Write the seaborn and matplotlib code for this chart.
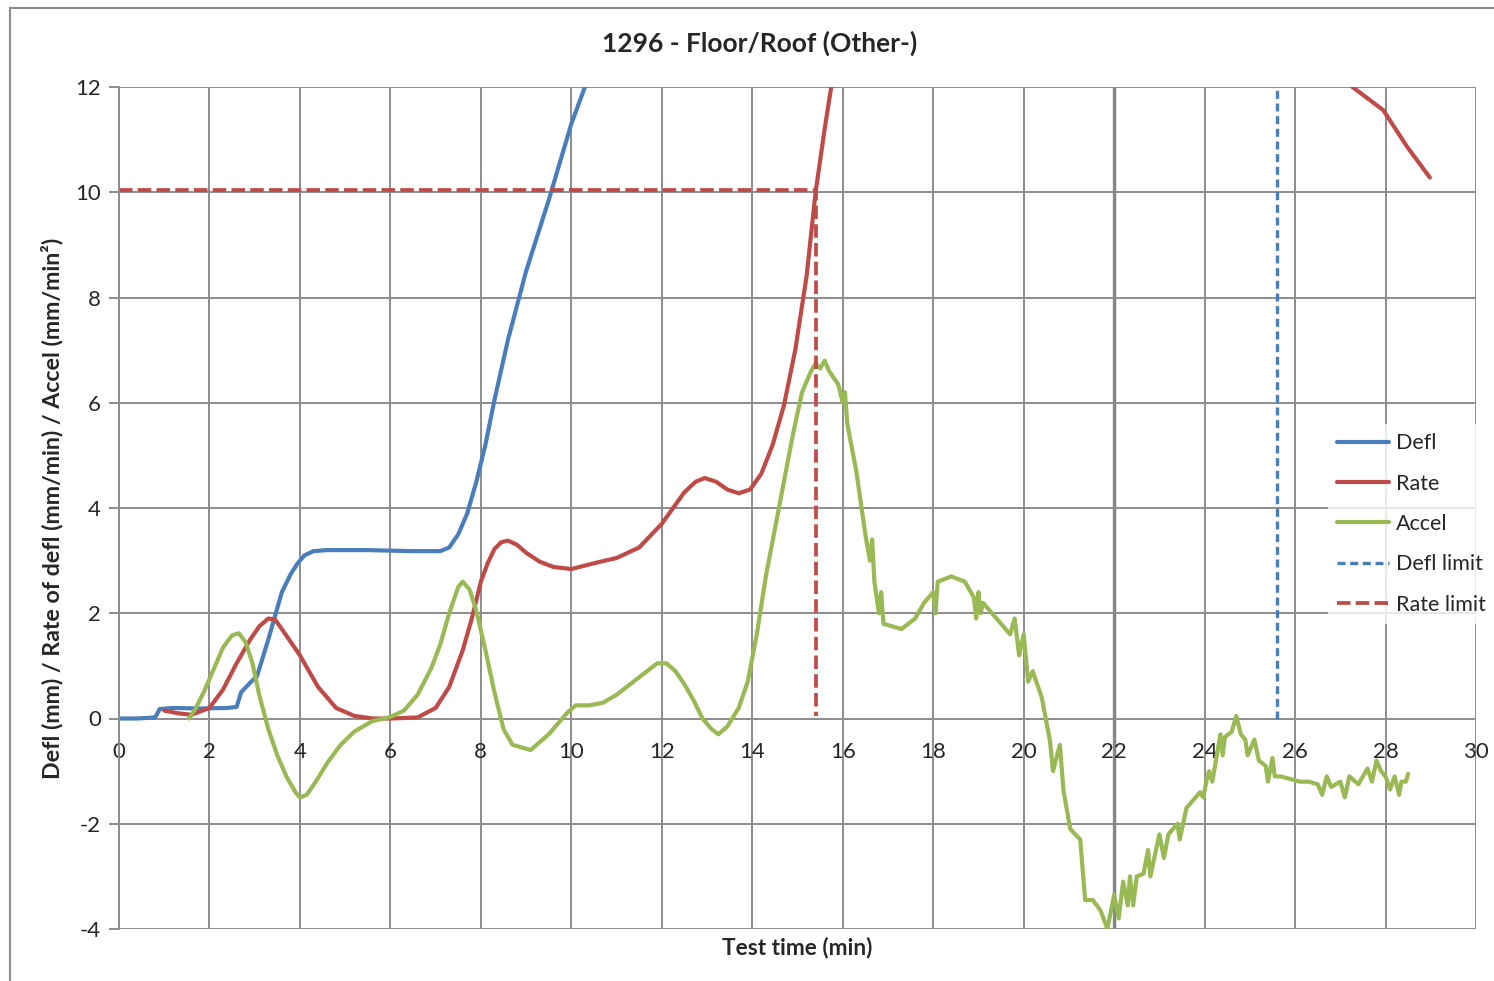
import numpy as np
import pandas as pd
import matplotlib
matplotlib.use("Agg")
import matplotlib.pyplot as plt
from matplotlib.patches import Rectangle
import seaborn as sns

# ---- data -------------------------------------------------------------
defl_t = [0.0, 0.4, 0.8, 0.9, 1.2, 1.8, 2.4, 2.6, 2.7, 2.9, 3.05, 3.3, 3.6, 3.8, 3.95, 4.1,
          4.3, 4.6, 5.5, 6.5, 7.1, 7.3, 7.5, 7.7, 7.9, 8.1, 8.3, 8.6, 9.0, 9.5, 10.0, 10.3,
          10.6]
defl_v = [0.0, 0.0, 0.02, 0.18, 0.2, 0.19, 0.2, 0.22, 0.5, 0.68, 0.8, 1.5, 2.4, 2.75, 2.95,
          3.1, 3.18, 3.2, 3.2, 3.18, 3.18, 3.25, 3.5, 3.9, 4.5, 5.2, 6.05, 7.2, 8.5, 9.85,
          11.3, 12.0, 12.6]

rate_t = [1.0, 1.3, 1.6, 2.0, 2.3, 2.6, 2.9, 3.1, 3.3, 3.45, 3.6, 4.0, 4.4, 4.8, 5.2, 5.6,
          6.0, 6.6, 7.0, 7.3, 7.6, 7.8, 8.0, 8.15, 8.3, 8.45, 8.6, 8.8, 9.0, 9.3, 9.6, 10.0,
          10.5, 11.0, 11.5, 12.0, 12.5, 12.75, 12.95, 13.2, 13.45, 13.7, 13.95, 14.2, 14.45,
          14.7, 14.95, 15.2, 15.4, 15.6, 15.8, 16.5, 18.0, 22.0, 26.0, 27.0, 27.27, 27.95,
          28.48, 28.98]
rate_v = [0.15, 0.1, 0.07, 0.2, 0.55, 1.05, 1.5, 1.75, 1.9, 1.88, 1.7, 1.2, 0.6, 0.2, 0.05,
          0.0, 0.0, 0.02, 0.2, 0.6, 1.3, 1.9, 2.6, 2.95, 3.22, 3.35, 3.38, 3.3, 3.15, 2.98,
          2.88, 2.84, 2.95, 3.05, 3.25, 3.7, 4.3, 4.5, 4.57, 4.5, 4.35, 4.28, 4.35, 4.65, 5.2,
          5.95, 7.0, 8.4, 10.0, 11.2, 12.3, 15.5, 18.0, 18.5, 14.0, 12.3, 12.0, 11.56, 10.86,
          10.28]

accel_t = [1.55, 1.7, 1.9, 2.1, 2.3, 2.5, 2.65, 2.8, 2.95, 3.1, 3.3, 3.5, 3.7, 3.9, 4.0, 4.15,
           4.35, 4.6, 4.9, 5.2, 5.6, 6.0, 6.3, 6.6, 6.9, 7.1, 7.3, 7.5, 7.6, 7.75, 7.9, 8.1,
           8.3, 8.5, 8.7, 8.9, 9.1, 9.3, 9.5, 9.7, 9.9, 10.1, 10.4, 10.7, 11.0, 11.3, 11.6,
           11.9, 12.1, 12.3, 12.5, 12.7, 12.9, 13.1, 13.25, 13.45, 13.7, 13.9, 14.1, 14.3,
           14.5, 14.7, 14.9, 15.1, 15.3, 15.4, 15.5, 15.6, 15.7, 15.9, 16.0, 16.05, 16.1,
           16.3, 16.5, 16.6, 16.65, 16.7, 16.8, 16.85, 16.9, 17.1, 17.3, 17.6, 17.8, 18.0,
           18.05, 18.1, 18.4, 18.7, 18.9, 18.95, 19.0, 19.05, 19.1, 19.4, 19.7, 19.8, 19.9,
           20.0, 20.1, 20.2, 20.4, 20.58, 20.65, 20.8, 20.88, 21.03, 21.25, 21.36, 21.53,
           21.7, 21.85, 22.0, 22.1, 22.2, 22.3, 22.35, 22.42, 22.5, 22.65, 22.75, 22.8,
           23.0, 23.1, 23.2, 23.4, 23.45, 23.6, 23.8, 23.9, 23.97, 24.05, 24.1, 24.17, 24.35,
           24.4, 24.45, 24.6, 24.7, 24.8, 24.9, 24.95, 25.1, 25.2, 25.35, 25.4, 25.5, 25.55,
           25.67, 25.9, 26.1, 26.3, 26.5, 26.6, 26.7, 26.8, 27.0, 27.1, 27.2, 27.4, 27.6,
           27.7, 27.8, 27.9, 28.0, 28.1, 28.2, 28.3, 28.35, 28.45, 28.5]
accel_v = [0.0, 0.2, 0.55, 0.95, 1.35, 1.58, 1.62, 1.45, 1.05, 0.45, -0.2, -0.7, -1.1, -1.4,
           -1.5, -1.45, -1.2, -0.85, -0.5, -0.25, -0.05, 0.03, 0.15, 0.45, 0.95, 1.4, 2.0,
           2.5, 2.6, 2.45, 2.05, 1.3, 0.5, -0.2, -0.5, -0.55, -0.6, -0.45, -0.3, -0.1, 0.1,
           0.25, 0.25, 0.3, 0.45, 0.65, 0.85, 1.05, 1.05, 0.9, 0.65, 0.35, 0.0, -0.2, -0.3,
           -0.15, 0.2, 0.7, 1.6, 2.7, 3.6, 4.5, 5.4, 6.2, 6.6, 6.75, 6.65, 6.8, 6.6, 6.35,
           6.0, 6.2, 5.6, 4.7, 3.5, 3.0, 3.4, 2.6, 2.0, 2.4, 1.8, 1.75, 1.7, 1.9, 2.2, 2.4,
           2.0, 2.6, 2.7, 2.6, 2.3, 1.9, 2.4, 2.0, 2.2, 1.9, 1.6, 1.9, 1.2, 1.6, 0.7, 0.9,
           0.4, -0.42, -1.0, -0.5, -1.37, -2.1, -2.3, -3.45, -3.45, -3.65, -4.0, -3.35,
           -3.8, -3.1, -3.55, -3.0, -3.55, -3.0, -2.95, -2.5, -3.0, -2.2, -2.65, -2.2,
           -2.0, -2.3, -1.7, -1.5, -1.4, -1.5, -1.15, -1.0, -1.2, -0.3, -0.7, -0.35,
           -0.25, 0.05, -0.3, -0.4, -0.7, -0.4, -0.8, -0.9, -1.2, -0.75, -1.1, -1.1, -1.15,
           -1.2, -1.2, -1.25, -1.45, -1.1, -1.3, -1.2, -1.5, -1.1, -1.25, -0.95, -1.2, -0.8,
           -1.0, -1.1, -1.35, -1.1, -1.45, -1.2, -1.2, -1.05]

defl_limit_t = [25.6, 25.6]
defl_limit_v = [0.0, 12.0]
rate_limit_t = [0.0, 15.4, 15.4]
rate_limit_v = [10.05, 10.05, 0.05]

x_ticks = list(range(0, 31, 2))
y_ticks = list(range(-4, 13, 2))

# ---- style ------------------------------------------------------------
sns.set_theme(style="white")
plt.rcParams["font.family"] = ["Lato", "DejaVu Sans"]

C_DEFL = "#4A7EBB"
C_RATE = "#BE4B48"
C_ACCEL = "#98B954"
GRID = "#8C8C8C"

fig = plt.figure(figsize=(14.94, 9.81), dpi=100)
ax = fig.add_axes([119 / 1494, 1 - 929 / 981, (1476 - 119) / 1494, (929 - 87) / 981])

# outer chart frame
fig.patches.append(Rectangle((10 / 1494, -0.05), 1.2, 1 - 8 / 981 + 0.05,
                             transform=fig.transFigure, fill=False,
                             edgecolor="#8C8C8C", linewidth=1.5, zorder=0))

lw = 3.0
def series(t, v, name):
    return pd.DataFrame({"t": t, "v": v, "name": name})

sns.lineplot(data=series(defl_t, defl_v, "Defl"), x="t", y="v", ax=ax, color=C_DEFL,
             lw=lw, sort=False, estimator=None, label="Defl")
sns.lineplot(data=series(rate_t, rate_v, "Rate"), x="t", y="v", ax=ax, color=C_RATE,
             lw=lw, sort=False, estimator=None, label="Rate")
sns.lineplot(data=series(accel_t, accel_v, "Accel"), x="t", y="v", ax=ax, color=C_ACCEL,
             lw=lw, sort=False, estimator=None, label="Accel")
sns.lineplot(data=series(defl_limit_t, defl_limit_v, "Defl limit"), x="t", y="v",
             ax=ax, color=C_DEFL, lw=2.4, sort=False, estimator=None,
             label="Defl limit")
sns.lineplot(data=series(rate_limit_t, rate_limit_v, "Rate limit"), x="t", y="v", ax=ax,
             color=C_RATE, lw=2.7, sort=False, estimator=None, label="Rate limit")

lines = ax.get_lines()
lines[3].set_dashes([2.4, 1.4])
lines[4].set_dashes([3.6, 1.4])
for ln in lines[:3]:
    ln.set_solid_capstyle("round")
    ln.set_solid_joinstyle("round")

ax.set_xlim(0, 30)
ax.set_ylim(-4, 12)
ax.set_xticks(x_ticks)
ax.set_yticks(y_ticks)
ax.set_xticklabels([str(v) for v in x_ticks])
ax.set_yticklabels([str(v) for v in y_ticks])

ax.grid(True, color=GRID, linewidth=1.4)
ax.axvline(22, color="#7A7A7A", linewidth=2.4, zorder=0.5)
ax.set_axisbelow(True)

for s in ("top", "right"):
    ax.spines[s].set_visible(False)
ax.spines["left"].set_color(GRID)
ax.spines["left"].set_linewidth(1.4)
ax.spines["bottom"].set_position(("data", 0))
ax.spines["bottom"].set_visible(False)

ax.tick_params(axis="y", which="major", direction="out", length=7, width=1.4,
               color=GRID, labelsize=16, pad=6, left=True)
ax.tick_params(axis="x", which="major", length=0, labelsize=16, pad=17)

ax.set_xlabel("")
ax.set_ylabel("")
fig.text(797 / 1494, 1 - 947 / 981, "Test time (min)", ha="center", va="center",
         fontsize=16.3, fontweight="bold")
fig.text(52 / 1494, 1 - 508 / 981, "Defl (mm) / Rate of defl (mm/min) / Accel (mm/min²)",
         ha="center", va="center", rotation=90, fontsize=16.7, fontweight="bold")
fig.text(760 / 1494, 1 - 43 / 981, "1296 - Floor/Roof (Other-)", ha="center", va="center",
         fontsize=19, fontweight="bold")

leg = ax.legend(loc="center left", bbox_to_anchor=(1328 / 1494, 1 - 524 / 981),
                bbox_transform=fig.transFigure, frameon=True, fontsize=15.5,
                handlelength=2.45, handletextpad=0.3, labelspacing=0.95,
                borderpad=0.4, borderaxespad=0.0, fancybox=False)
leg.get_frame().set_facecolor("white")
leg.get_frame().set_edgecolor("white")
leg.get_frame().set_linewidth(0)

fig.savefig("out.png", dpi=100, facecolor="white")
